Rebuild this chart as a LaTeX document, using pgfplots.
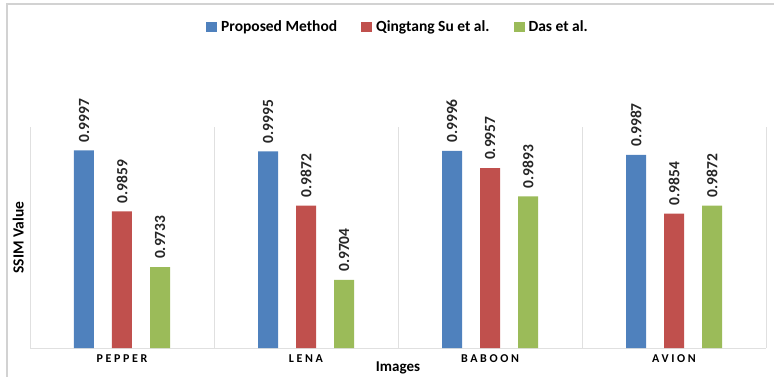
\documentclass[border=0pt]{standalone}
\usepackage{pgfplots}
\pgfplotsset{compat=1.18}
\usetikzlibrary{calc}
\usepackage{fontspec}
\setmainfont{Carlito}
\newfontfamily\spaced[LetterSpace=22]{Carlito}
\definecolor{cblue}{HTML}{4F81BD}
\definecolor{cred}{HTML}{C0504D}
\definecolor{cgreen}{HTML}{9BBB59}
\definecolor{gridc}{HTML}{E0E0E0}
\begin{document}
\begin{tikzpicture}[x=1pt,y=1pt]
\begin{axis}[
  scale only axis, width=736pt, height=221pt,
  xmin=-0.5, xmax=3.5, ymin=0.955, ymax=1.005,
  axis x line*=bottom, axis y line=none,
  x axis line style={draw=gridc, line width=0.8pt, -},
  xtick={0,1,2,3},
  xticklabels={PEPPER,LENA,BABOON,AVION},
  xticklabel style={font=\spaced\bfseries\fontsize{12}{13}\selectfont, yshift=-3pt},
  major tick length=0pt,
  extra x ticks={-0.5,0.5,1.5,2.5,3.5},
  extra x tick labels={},
  extra x tick style={grid=major, major grid style={draw=gridc, line width=0.8pt}},
  ytick=\empty,
  ybar, bar width=20pt,
  xlabel={Images},
  xlabel style={font=\bfseries\fontsize{15}{16}\selectfont, at={(axis description cs:0.5,0)}, anchor=center, yshift=-20pt},
  nodes near coords={\pgfmathprintnumber[fixed,precision=4,zerofill]{\pgfplotspointmeta}},
  nodes near coords style={rotate=90, anchor=west, inner sep=0pt, xshift=8pt, font=\bfseries\fontsize{15.5}{16}\selectfont, text=black!85},
  /pgf/number format/assume math mode=true,
  legend columns=3,
  legend style={draw=none, fill=none, at={(axis description cs:0.5,1.0)}, anchor=center, yshift=100pt, xshift=0pt,
    font=\bfseries\fontsize{15.5}{16}\selectfont, inner sep=0pt,
    /tikz/every odd column/.append style={column sep=2pt},
    /tikz/every even column/.append style={column sep=22pt}},
  legend image code/.code={\fill[#1] (0pt,-5pt) rectangle (11pt,5pt);},
  clip=false,
]
\addplot[fill=cblue, draw=none, bar shift=-38pt]
  coordinates {(0,0.9997) (1,0.9995) (2,0.9996) (3,0.9987)};
\addplot[fill=cred, draw=none, bar shift=0pt]
  coordinates {(0,0.9859) (1,0.9872) (2,0.9957) (3,0.9854)};
\addplot[fill=cgreen, draw=none, bar shift=38pt]
  coordinates {(0,0.9733) (1,0.9704) (2,0.9893) (3,0.9872)};
\legend{Proposed Method, Qingtang Su et al., Das et al.}
\node[rotate=90, font=\bfseries\fontsize{15.5}{16}\selectfont] at (axis description cs:-0.016,0.5) {SSIM Value};
\coordinate (ll) at (rel axis cs:0,0);
\end{axis}
% page extent and chart frame, measured from the plot area corner
\pgfresetboundingbox
\path[use as bounding box] ($(ll)+(-30,-28)$) rectangle ++(774,376);
\draw[gray!35, line width=1.2pt] ($(ll)+(-23,-30)$) -- ++(0,374) -- ++(770,0);
\end{tikzpicture}
\end{document}
